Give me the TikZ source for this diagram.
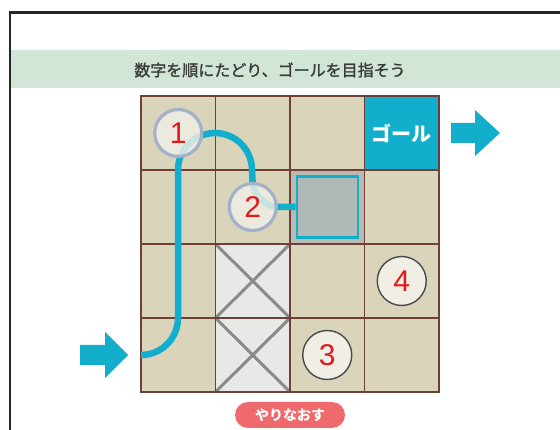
\documentclass[tikz,border=0pt]{standalone}
\usepackage{fontspec}
\setmainfont{Liberation Sans}
\newfontfamily\jpfont{Noto Sans CJK JP}
\newfontfamily\jpmed[FakeBold=1.3]{Noto Sans CJK JP}
\definecolor{cellbg}{HTML}{D9D4BA}
\definecolor{gridln}{HTML}{6E4038}
\definecolor{cyanc}{HTML}{12AECB}
\definecolor{bandc}{HTML}{D1E6D6}
\definecolor{xfill}{HTML}{E8E8E6}
\definecolor{xline}{HTML}{8A8A8A}
\definecolor{graycell}{HTML}{B9BBB3}
\definecolor{graysq}{HTML}{B1B9B7}
\definecolor{numred}{HTML}{E3191B}
\definecolor{discfill}{HTML}{F1EEE6}
\definecolor{ringblue}{HTML}{A3B2C7}
\definecolor{ringdark}{HTML}{4A4A4A}
\definecolor{btnc}{HTML}{EF6A6C}
\definecolor{titlec}{HTML}{3A3A3A}
\tikzset{
  cellbox/.style={draw=gridln, line width=1.4pt, fill=cellbg, minimum width=74.5pt, minimum height=74pt, inner sep=0pt, outer sep=0pt},
  numtxt/.style={text=numred, font=\fontsize{30}{30}\selectfont},
  discA/.style={circle, draw=ringblue, line width=3.2pt, fill=discfill, fill opacity=0.82, text opacity=1, minimum size=47pt, inner sep=0pt, numtxt},
  discB/.style={circle, draw=ringdark, line width=1.4pt, fill=discfill, minimum size=49pt, inner sep=0pt, numtxt},
  route/.style={draw=cyanc, line width=6.5pt},
  bigarrow/.style={fill=cyanc, draw=none},
  xmark/.style={draw=xline, line width=3pt},
  gridline/.style={draw=gridln, line width=1.6pt},
}
\begin{document}
\begin{tikzpicture}[x=1pt, y=-1pt]
\useasboundingbox (0,0) rectangle (560,430);
\fill[white] (0,0) rectangle (560,430);
% frame and band
\fill[bandc] (11,50) rectangle (560,88);
\draw[line width=2.4pt, color=black!85] (10,431) -- (10,12.5) -- (561,12.5);
\node[text=titlec, font=\jpmed\fontsize{16}{16}\selectfont] (title) at (270,70) {数字を順にたどり、ゴールを目指そう};
% grid cells
\foreach \r in {1,...,4}{
  \foreach \c in {1,...,4}{
    \node[cellbox] (c\c\r) at ({141+74.5*(\c-0.5)},{96+74*(\r-0.5)}) {};
  }
}
% goal cell
\node[cellbox, fill=cyanc, text=white, font=\jpfont\bfseries\fontsize{20}{20}\selectfont] (goal) at (c41) {ゴール};
% blocked cells
\node[cellbox, fill=xfill] (x1) at (c23) {};
\node[cellbox, fill=xfill] (x2) at (c24) {};
\draw[xmark] (x1.north west) -- (x1.south east) (x1.north east) -- (x1.south west);
\draw[xmark] (x2.north west) -- (x2.south east) (x2.north east) -- (x2.south west);
\node[cellbox, fill=graycell] (gc) at (c32) {};
\foreach \c in {2,3,4}{\draw[gridline] (c\c1.north west) -- (c\c4.south west);}
\foreach \r in {2,3,4}{\draw[gridline] (c1\r.north west) -- (c4\r.north east);}
\draw[gridline] (c11.north west) rectangle (c44.south east);
\node[draw=cyanc, line width=2.2pt, fill=graysq, minimum size=61pt, inner sep=0pt] (sq) at (c32) {};
% arrows
\fill[bigarrow] (80,345) -- (105,345) -- (105,332) -- (128,355) -- (105,378) -- (105,365) -- (80,365) -- cycle;
\fill[bigarrow] (451,123) -- (475,123) -- (475,110) -- (500,133) -- (475,156) -- (475,143) -- (451,143) -- cycle;
% route
\coordinate (pstart) at (c14.west);
\draw[route] (pstart) arc[start angle=90, end angle=0, radius=37]
  -- (178,170) arc[start angle=180, end angle=360, radius=37]
  -- (252.5,180) arc[start angle=180, end angle=90, radius=27]
  -- (sq.west);
% numbered discs
\node[discA] (n1) at (c11) {1};
\node[discA] (n2) at (c22) {2};
\node[discB] (n3) at (c34) {3};
\node[discB] (n4) at (c43) {4};
% button
\node[fill=btnc, rounded corners=13pt, minimum width=110pt, minimum height=26pt, inner sep=0pt, text=white, font=\jpfont\bfseries\fontsize{14}{14}\selectfont] (btn) at (290,415) {やりなおす};
\end{tikzpicture}
\end{document}
